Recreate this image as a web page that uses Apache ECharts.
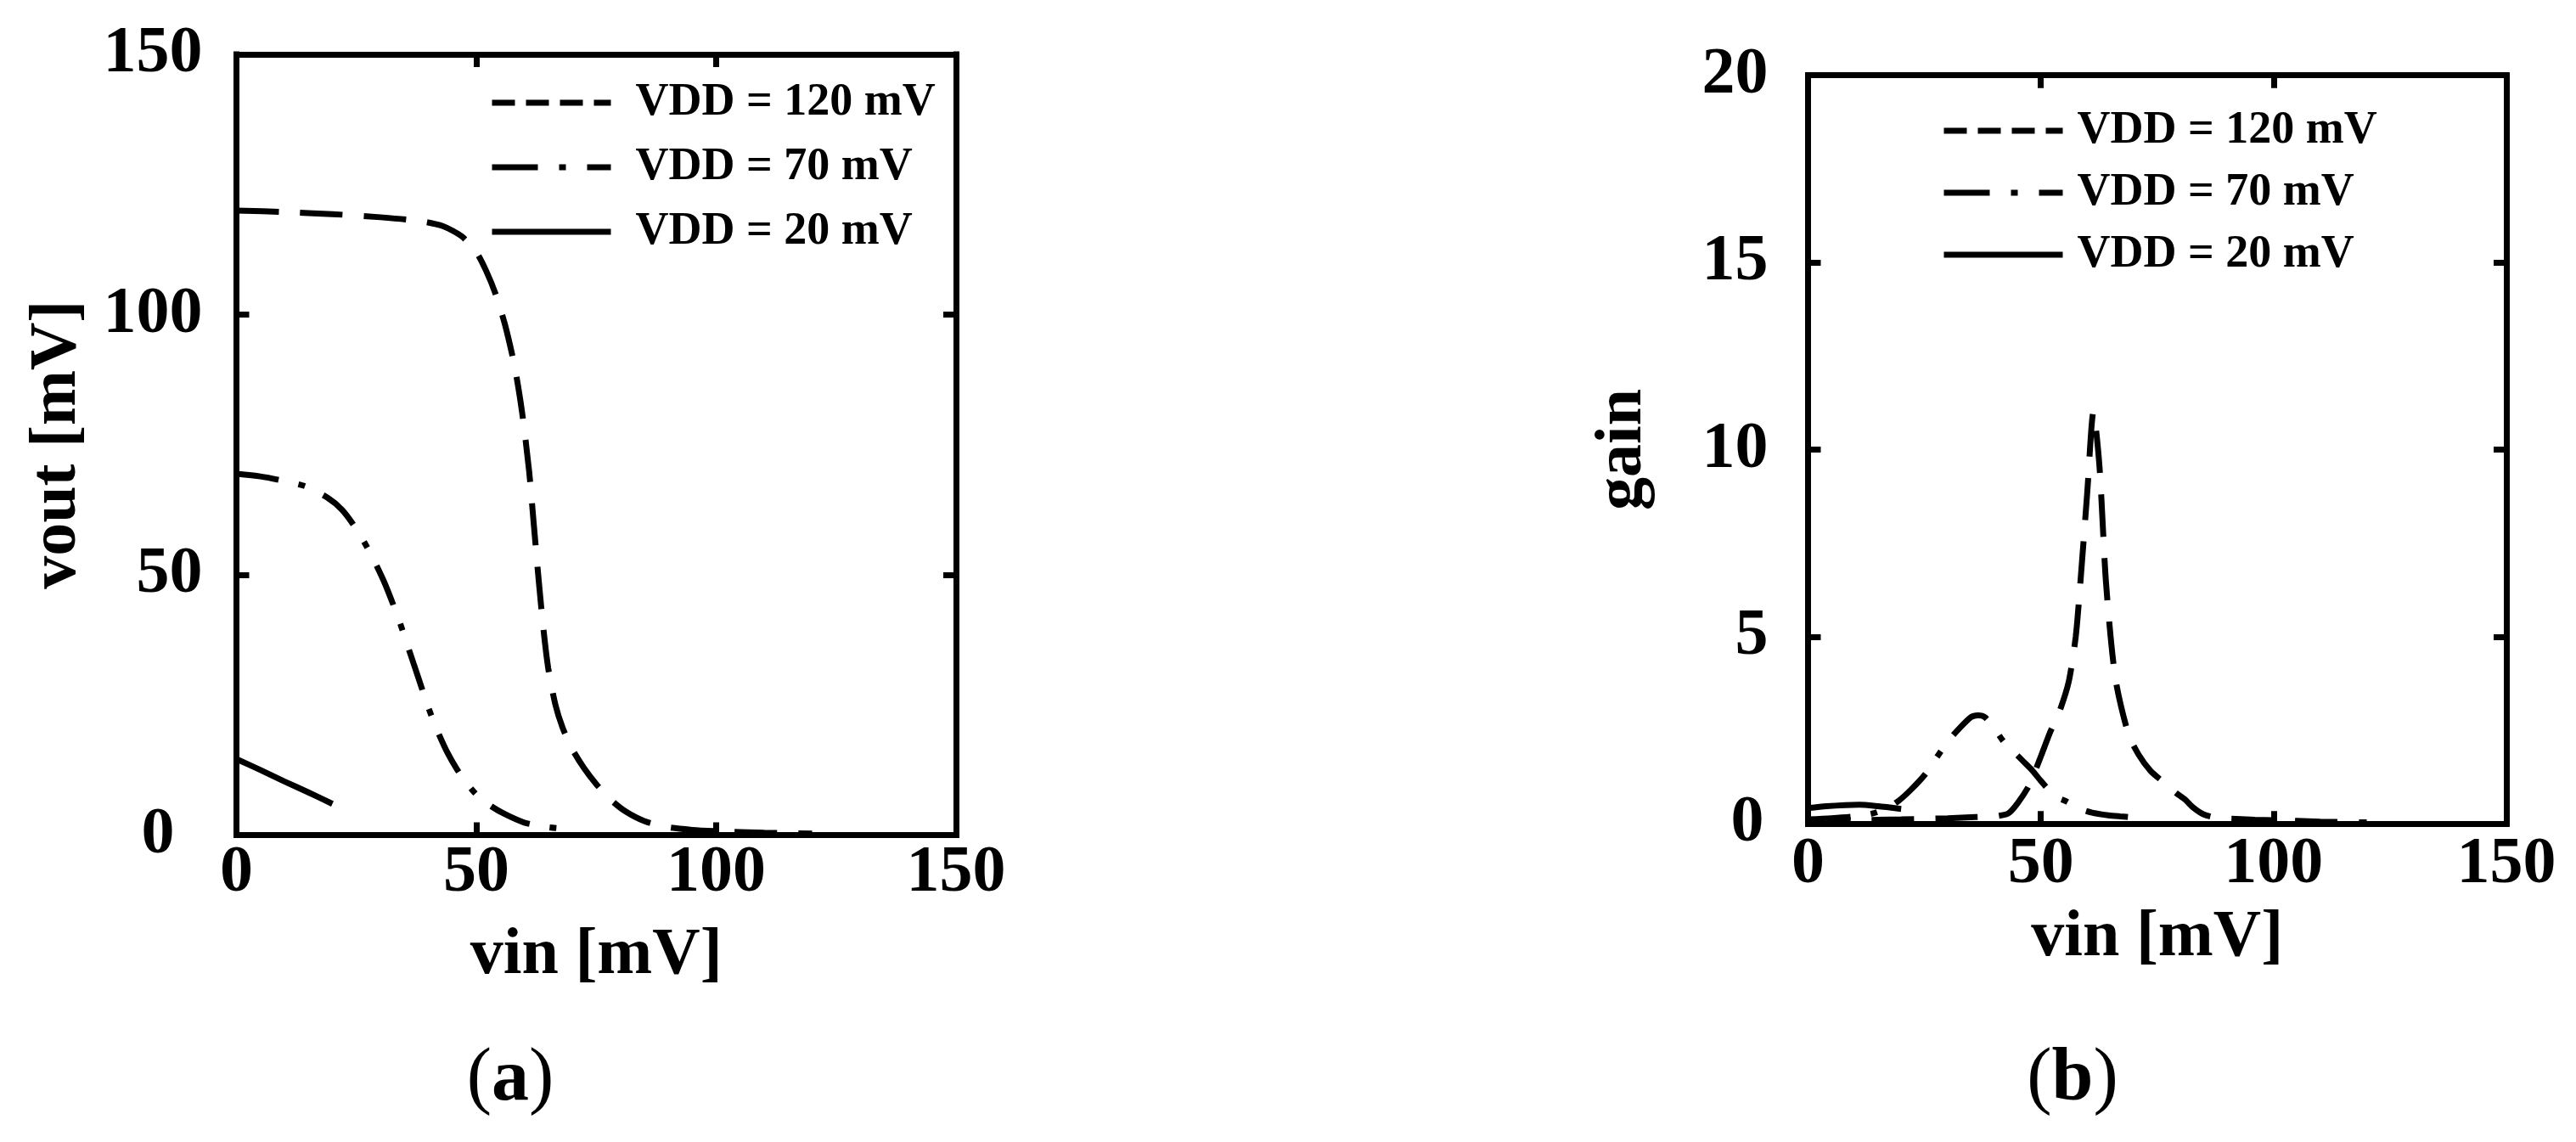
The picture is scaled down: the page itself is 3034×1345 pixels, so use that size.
<!DOCTYPE html>
<html>
<head>
<meta charset="utf-8">
<script src="https://cdn.jsdelivr.net/npm/echarts@6/dist/echarts.min.js"></script>
<style>
  html, body { margin: 0; padding: 0; background: #fff; }
  #chart { width: 3034px; height: 1345px; }
</style>
</head>
<body>
<div id="chart"></div>
<script>
// (a) vout vs vin
const vinA120 = [0, 10, 20, 30, 38, 43, 47, 50, 52, 54, 56, 58, 59.5, 61, 62, 63, 64, 65, 66.5, 68, 70, 72.5, 75, 78, 81, 85, 90, 95, 100, 110, 120]
const voutA120 = [120, 119.7, 119.3, 118.7, 118.0, 117.0, 115.0, 112.0, 108.5, 104, 98, 90, 81.5, 70, 59.5, 49, 39.5, 32, 25, 20.6, 16.5, 12.8, 9.8, 6.8, 4.6, 2.7, 1.5, 1.0, 0.75, 0.45, 0.3]
const vinA70 = [0, 5, 9, 14.4, 19, 22, 25, 28, 31, 34, 36, 38, 40, 42, 44, 46, 48, 50, 53, 56, 60, 65, 70]
const voutA70 = [69.4, 68.9, 68.2, 67.0, 64.8, 62.5, 58.8, 54.0, 48.2, 41.0, 35.5, 30.0, 24.5, 19.8, 15.8, 12.6, 10.0, 7.8, 5.6, 4.0, 2.4, 1.5, 1.1]
const vinA20 = [0, 5, 10, 15, 20]
const voutA20 = [14.6, 12.5, 10.3, 8.2, 6.0]

// (b) gain vs vin
const vinB120 = [0, 10, 20, 30, 36, 40, 43, 45, 47.5, 50, 52, 54, 56, 57.5, 58.5, 60, 61.3, 62.6, 64, 66, 68.8, 71, 73.6, 76, 79, 81, 82.6, 85, 88, 92, 96, 100, 110, 120]
const gainB120 = [0.1, 0.1, 0.12, 0.15, 0.18, 0.2, 0.28, 0.55, 1.03, 1.8, 2.45, 3.0, 3.8, 5.0, 6.45, 8.9, 11.0, 9.55, 6.45, 3.9, 2.4, 1.85, 1.41, 1.15, 0.83, 0.65, 0.45, 0.25, 0.16, 0.13, 0.11, 0.1, 0.06, 0.04]
const vinB70 = [0, 5, 10, 14, 17, 19.5, 22, 25, 27.5, 30, 32.5, 35, 36.5, 38, 40, 42, 44, 46, 48, 50, 53, 55.5, 58, 61, 64.5, 67, 70]
const gainB70 = [0.12, 0.15, 0.2, 0.28, 0.42, 0.62, 0.9, 1.3, 1.75, 2.2, 2.55, 2.85, 2.9, 2.85, 2.55, 2.2, 1.95, 1.7, 1.45, 1.15, 0.74, 0.6, 0.42, 0.3, 0.23, 0.2, 0.17]
const vinB20 = [0, 4, 8, 11, 15, 20]
const gainB20 = [0.42, 0.47, 0.5, 0.51, 0.47, 0.4]

const names = ['VDD = 120 mV', 'VDD = 70 mV', 'VDD = 20 mV']
const xTicksA = [0, 150, 50]
const yTicksA = [0, 150, 50]
const xTicksB = [0, 150, 50]
const yTicksB = [0, 20, 5]

const FONT = 'Liberation Serif'
const curveDash = [[50, 25], [50, 24, 8, 24], 'solid']
const legendDash = [[27, 13], [54, 25, 8, 25], 'solid']

function pairs(xs, ys) {
  return xs.map(function(x, i) { return [x, ys[i]] })
}

function axis(grid, pos, ticks, opts) {
  const a = {
    gridIndex: grid,
    type: 'value',
    position: pos,
    min: ticks[0],
    max: ticks[1],
    interval: ticks[2],
    splitLine: { show: false },
    axisLine: { show: true, onZero: false, lineStyle: { color: '#000', width: 7, cap: 'square' } },
    axisTick: { show: true, inside: true, length: 15, lineStyle: { color: '#000', width: 7 } },
    axisLabel: { show: false }
  }
  return Object.assign(a, opts || {})
}

function label(margin, zeroPad) {
  const l = { show: true, margin: margin, color: '#000', fontFamily: FONT, fontWeight: 'bold', fontSize: 78 }
  if (zeroPad) {
    // the 0 on the y axis sits further left than the other labels
    l.formatter = function(v) { return v === 0 ? '{z|0}' : String(v) }
    l.rich = { z: { color: '#000', fontFamily: FONT, fontWeight: 'bold', fontSize: 78, padding: [0, zeroPad, 0, 0] } }
  }
  return l
}

const nameStyle = { color: '#000', fontFamily: FONT, fontWeight: 'bold', fontSize: 78 }

function line(name, i, xi, data) {
  return {
    name: name,
    type: 'line',
    xAxisIndex: xi,
    yAxisIndex: xi,
    data: data,
    symbol: 'none',
    smooth: 0.25,
    lineStyle: { color: '#000', width: 7, type: curveDash[i] },
    itemStyle: { color: '#000' }
  }
}

function legend(left, top, gap, pad) {
  return {
    orient: 'vertical',
    left: left,
    top: top,
    padding: 0,
    itemGap: gap,
    itemWidth: 140,
    itemHeight: 14,
    selectedMode: false,
    textStyle: { color: '#000', fontFamily: FONT, fontWeight: 'bold', fontSize: 54, lineHeight: 54, padding: [0, 0, 0, pad] },
    itemStyle: { color: 'rgba(0,0,0,0)', borderWidth: 0 },
    data: names.map(function(n, i) {
      return { name: n, lineStyle: { color: '#000', width: 7, type: legendDash[i] } }
    })
  }
}

const chart = echarts.init(document.getElementById('chart'))
chart.setOption({
  animation: false,
  backgroundColor: '#fff',
  grid: [
    { left: 278.5, top: 64, width: 847.5, height: 919.5 },
    { left: 2129.5, top: 88.7, width: 822.5, height: 881.6 }
  ],
  legend: [
    legend(576, 94, 22, 24),
    legend(2286, 127, 19, 12)
  ],
  xAxis: [
    axis(0, 'bottom', xTicksA, { axisLabel: label(6), name: 'vin [mV]', nameLocation: 'middle', nameGap: 103, nameTextStyle: nameStyle }),
    axis(0, 'top', xTicksA),
    axis(1, 'bottom', xTicksB, { axisLabel: label(10), name: 'vin [mV]', nameLocation: 'middle', nameGap: 96, nameTextStyle: nameStyle }),
    axis(1, 'top', xTicksB)
  ],
  yAxis: [
    axis(0, 'left', yTicksA, { axisLabel: label(40, 33), name: 'vout [mV]', nameLocation: 'middle', nameGap: 172, nameTextStyle: nameStyle }),
    axis(0, 'right', yTicksA),
    axis(1, 'left', yTicksB, { axisLabel: label(47, 5), name: 'gain', nameLocation: 'middle', nameGap: 179, nameTextStyle: nameStyle }),
    axis(1, 'right', yTicksB)
  ],
  graphic: [
    {
      type: 'text', x: 601, y: 1272,
      style: { text: '({b|a})', align: 'center', verticalAlign: 'middle', fill: '#000', font: '88px "Liberation Serif"', rich: { b: { fontFamily: FONT, fontWeight: 'bold', fontSize: 88 } } }
    },
    {
      type: 'text', x: 2441, y: 1272,
      style: { text: '({b|b})', align: 'center', verticalAlign: 'middle', fill: '#000', font: '88px "Liberation Serif"', rich: { b: { fontFamily: FONT, fontWeight: 'bold', fontSize: 88 } } }
    }
  ],
  series: [
    line(names[0], 0, 0, pairs(vinA120, voutA120)),
    line(names[1], 1, 0, pairs(vinA70, voutA70)),
    line(names[2], 2, 0, pairs(vinA20, voutA20)),
    line(names[0], 0, 2, pairs(vinB120, gainB120)),
    line(names[1], 1, 2, pairs(vinB70, gainB70)),
    line(names[2], 2, 2, pairs(vinB20, gainB20))
  ]
})
</script>
</body>
</html>
